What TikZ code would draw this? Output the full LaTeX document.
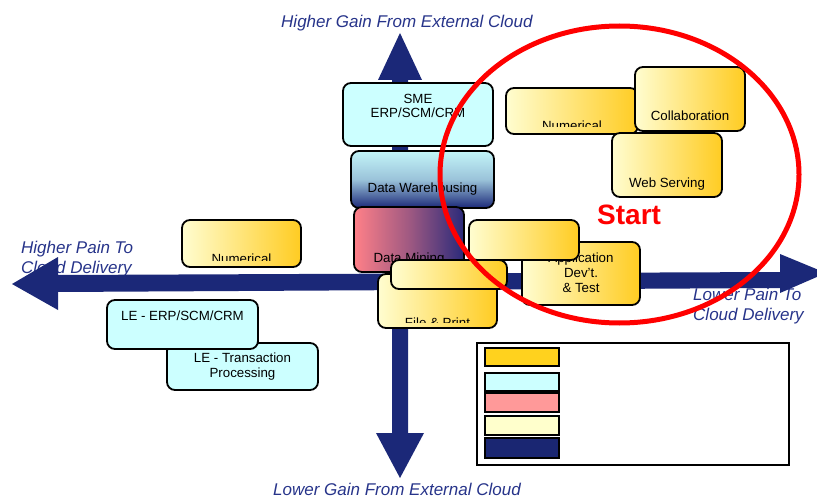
\documentclass[tikz,border=0pt]{standalone}
\usepackage{fontspec}
\setmainfont{Liberation Sans}
\definecolor{navy}{HTML}{1B2878}
\definecolor{labelblue}{HTML}{27348A}
\definecolor{paley}{HTML}{FFFDD0}
\definecolor{gold}{HTML}{FFCC22}
\definecolor{lcyan}{HTML}{CCFFFF}
\definecolor{pinkc}{HTML}{FF8088}
\definecolor{dmnavy}{HTML}{2A2A7A}
\definecolor{legold}{HTML}{FFD21E}
\definecolor{lepink}{HTML}{FF9999}
\definecolor{leyellow}{HTML}{FFFFCC}
\definecolor{lenavy}{HTML}{1A2672}
\begin{document}
\begin{tikzpicture}[x=1pt,y=-1pt,
  boxbase/.style={draw=black, line width=1.8pt, rounded corners=8pt, inner sep=0pt, outer sep=0pt},
  ybox/.style={boxbase, left color=paley, right color=gold},
  cbox/.style={boxbase, fill=lcyan},
  dwbox/.style={boxbase, top color=lcyan!95!navy, bottom color=navy, middle color=lcyan!72!navy},
  dmbox/.style={boxbase, left color=pinkc, right color=dmnavy, middle color=pinkc!55!dmnavy},
  txt/.style={inner sep=0pt, anchor=base, font=\fontsize{13.3}{15}\selectfont},
  axlbl/.style={inner sep=0pt, anchor=base west, text=labelblue, font=\fontsize{17}{20}\selectfont\itshape},
  swatch/.style={draw=black, line width=2pt}
]
\useasboundingbox (0,0) rectangle (817,500);

% axis labels
\node[axlbl] (hg) at (281,28) {Higher Gain From External Cloud};
\node[axlbl] (lg) at (273,495) {Lower Gain From External Cloud};
\node[axlbl] (hp1) at (21,253) {Higher Pain To};
\node[axlbl] (hp2) at (21,273) {Cloud Delivery};
\node[axlbl] (lp1) at (693,300) {Lower Pain To};
\node[axlbl] (lp2) at (693,320) {Cloud Delivery};

% arrows
\fill[navy] (400,33) -- (378,80) -- (392,80) -- (392,433) -- (376,433) -- (400,478)
  -- (424,433) -- (408,433) -- (408,80) -- (422,80) -- cycle;
\fill[navy] (12,284) -- (58,257) -- (58,275) -- (780,272) -- (780,254) -- (826,273)
  -- (780,293) -- (780,288) -- (58,292) -- (58,310) -- cycle;

% left boxes
\node[cbox, minimum width=151pt, minimum height=47pt] (letp) at (242.5,366.5) {};
\node[txt] (letpa) at (242.5,362) {LE - Transaction};
\node[txt] (letpb) at (242.5,377) {Processing};
\node[cbox, minimum width=151pt, minimum height=49pt] (leerp) at (182.5,324.5) {};
\node[txt] (leerpt) at (182.5,320) {LE - ERP/SCM/CRM};
\node[ybox, minimum width=119pt, minimum height=47pt] (numl) at (241.5,243.5) {};
\begin{scope}
  \clip (183,221) rectangle (300,260);
  \node[txt] (numlt) at (241.5,263) {Numerical};
\end{scope}

% centre stack
\node[cbox, minimum width=150pt, minimum height=63pt] (sme) at (418,114.5) {};
\node[txt] (smea) at (418,104) {SME};
\node[txt] (smeb) at (418,118) {ERP/SCM/CRM};
\node[dwbox, minimum width=143pt, minimum height=57pt] (dw) at (422.5,179.5) {};
\node[txt] (dwt) at (422.5,193) {Data Warehousing};
\node[dmbox, minimum width=110pt, minimum height=65pt] (dm) at (409,239.5) {};
\node[txt] (dmt) at (409,262) {Data Mining};
\node[ybox, minimum width=119pt, minimum height=54pt] (fp) at (437.5,301) {};
\begin{scope}
  \clip (379,275) rectangle (496,322);
  \node[txt] (fpt) at (437.5,327) {File \& Print};
\end{scope}
\node[ybox, minimum width=116pt, minimum height=29pt] (fpf) at (449,274.5) {};
\node[ybox, minimum width=118pt, minimum height=63pt] (app) at (581,273.5) {};
\node[txt] (appa) at (581,262) {Application};
\node[txt] (appb) at (581,277) {Dev't.};
\node[txt] (appc) at (581,292) {\& Test};
\node[ybox, minimum width=110pt, minimum height=40pt] (appf) at (524,240) {};

% right boxes
\node[ybox, minimum width=132pt, minimum height=46pt] (numr) at (572,111) {};
\begin{scope}
  \clip (507,89) rectangle (637,127);
  \node[txt] (numrt) at (572,131) {Numerical};
\end{scope}
\node[ybox, minimum width=110pt, minimum height=64pt] (collab) at (690,99) {};
\node[txt] (collabt) at (690,121) {Collaboration};
\node[ybox, minimum width=110pt, minimum height=64pt] (web) at (667,165) {};
\node[txt] (webt) at (667,187) {Web Serving};

% legend
\node[draw=black, line width=2.5pt, minimum width=312pt, minimum height=122pt, inner sep=0pt] (legend) at (633,404) {};
\node[swatch, fill=legold, minimum width=74pt, minimum height=18pt, inner sep=0pt] (sw1) at (522,357) {};
\node[swatch, fill=lcyan, minimum width=74pt, minimum height=18pt, inner sep=0pt] (sw2) at (522,382) {};
\node[swatch, fill=lepink, minimum width=74pt, minimum height=19pt, inner sep=0pt] (sw3) at (522,402.5) {};
\node[swatch, fill=leyellow, minimum width=74pt, minimum height=19pt, inner sep=0pt] (sw4) at (522,425.5) {};
\node[swatch, fill=lenavy, minimum width=74pt, minimum height=20pt, inner sep=0pt] (sw5) at (522,448) {};

% red ellipse and Start
\draw[red, line width=5pt] (619.5,174.5) ellipse [x radius=179.5, y radius=148.5];
\node[inner sep=0pt, anchor=base west, text=red, font=\fontsize{28}{32}\selectfont\bfseries] (start) at (597,224) {Start};
\end{tikzpicture}
\end{document}
